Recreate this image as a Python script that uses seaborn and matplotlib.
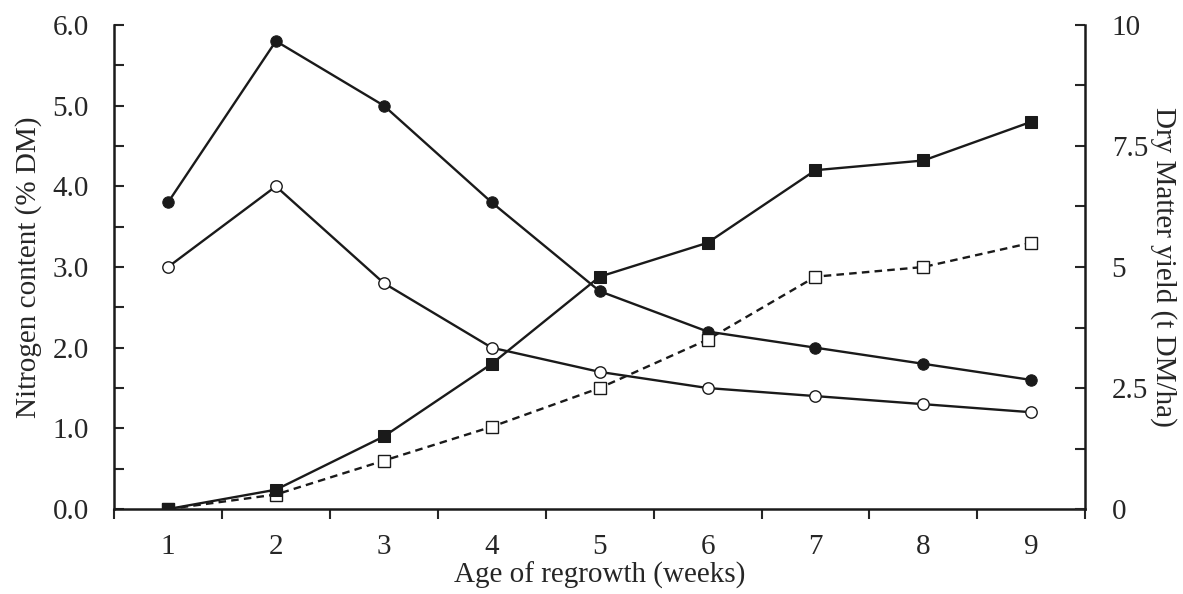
import matplotlib
matplotlib.use("Agg")
import matplotlib.pyplot as plt
import seaborn as sns
import pandas as pd
from matplotlib.ticker import MultipleLocator, FixedLocator

weeks = [1, 2, 3, 4, 5, 6, 7, 8, 9]
n_filled = [3.8, 5.8, 5.0, 3.8, 2.7, 2.2, 2.0, 1.8, 1.6]
n_open = [3.0, 4.0, 2.8, 2.0, 1.7, 1.5, 1.4, 1.3, 1.2]
dm_filled = [0.0, 0.4, 1.5, 3.0, 4.8, 5.5, 7.0, 7.2, 8.0]
dm_open = [0.0, 0.3, 1.0, 1.7, 2.5, 3.5, 4.8, 5.0, 5.5]

left_ticks = [0, 1, 2, 3, 4, 5, 6]
left_labels = ["0.0", "1.0", "2.0", "3.0", "4.0", "5.0", "6.0"]
right_ticks = [0, 2.5, 5, 7.5, 10]
right_labels = ["0", "2.5", "5", "7.5", "10"]

sns.set_style("ticks")
plt.rcParams['font.family'] = ['Liberation Serif', 'DejaVu Serif']
FS = 21
plt.rcParams['font.size'] = FS

fig = plt.figure(figsize=(11.83, 5.94), dpi=100)
ax = fig.add_axes([0.0964, 0.143, 0.821, 0.815])
ax2 = ax.twinx()

df = pd.DataFrame({"week": weeks, "nf": n_filled, "no": n_open, "df": dm_filled, "do": dm_open})

lw = 1.7
sns.lineplot(data=df, x="week", y="nf", ax=ax, color="#1a1a1a", lw=lw, marker="o",
             markersize=8.2, markerfacecolor="#1a1a1a", markeredgecolor="#1a1a1a", zorder=3)
sns.lineplot(data=df, x="week", y="no", ax=ax, color="#1a1a1a", lw=lw, marker="o",
             markersize=8.2, markerfacecolor="white", markeredgecolor="#1a1a1a", markeredgewidth=1.0, zorder=3)
sns.lineplot(data=df, x="week", y="do", ax=ax2, color="#1a1a1a", lw=lw, marker="s", dashes=(3.2, 2.2),
             markersize=8, markerfacecolor="white", markeredgecolor="#1a1a1a", markeredgewidth=1.0, zorder=3)
sns.lineplot(data=df, x="week", y="df", ax=ax2, color="#1a1a1a", lw=lw, marker="s",
             markersize=8, markerfacecolor="#1a1a1a", markeredgecolor="#1a1a1a", zorder=4)

ax.set_xlim(0.5, 9.5)
ax.set_ylim(0, 6)
ax2.set_ylim(0, 10)

ax.set_xticks(weeks)
ax.set_xticklabels([str(w) for w in weeks])
ax.xaxis.set_minor_locator(FixedLocator([w + 0.5 for w in range(0, 10)]))
ax.tick_params(axis="x", which="major", length=0, pad=18, labelsize=FS)
ax.tick_params(axis="x", which="minor", length=7, width=1.5, direction="out")

ax.set_yticks(left_ticks)
ax.set_yticklabels(left_labels)
ax.yaxis.set_minor_locator(MultipleLocator(0.5))
ax.tick_params(axis="y", which="both", direction="in", length=7, width=1.5, labelsize=FS, pad=18)

ax2.set_yticks(right_ticks)
ax2.set_yticklabels(right_labels)
ax2.yaxis.set_minor_locator(MultipleLocator(1.25))
ax2.tick_params(axis="y", which="both", direction="in", length=7, width=1.5, labelsize=FS, pad=19)

for a in (ax, ax2):
    a.spines["top"].set_visible(False)
    for s in ["left", "right", "bottom"]:
        a.spines[s].set_linewidth(1.8)
        a.spines[s].set_color("#1a1a1a")
ax.spines["right"].set_visible(False)
ax2.spines["left"].set_visible(False)
ax2.spines["bottom"].set_visible(False)
ax2.spines["right"].set_visible(True)

ax.set_xlabel("Age of regrowth (weeks)", fontsize=FS, labelpad=1)
ax.set_ylabel("Nitrogen content (% DM)", fontsize=FS, labelpad=8)
ax2.set_ylabel("Dry Matter yield (t DM/ha)", fontsize=FS, rotation=270, labelpad=21)

fig.savefig("out.png", dpi=100)
